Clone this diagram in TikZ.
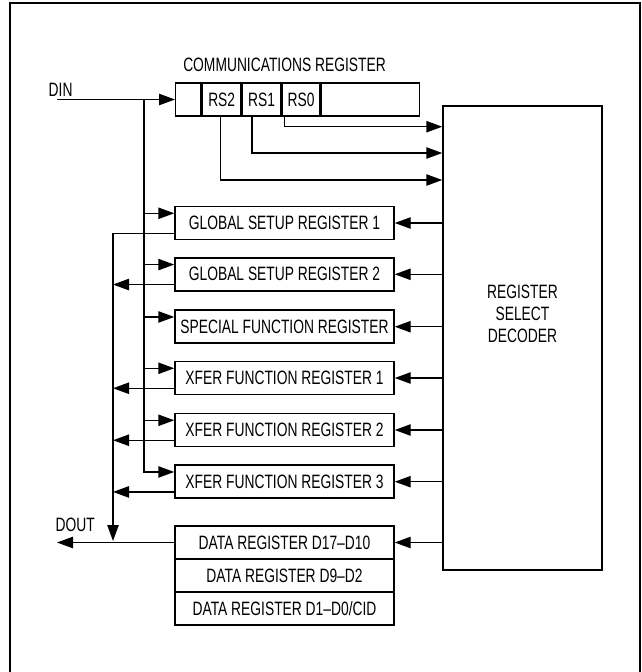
\documentclass[tikz,border=0pt]{standalone}
\usepackage{fontspec}
\setmainfont{Liberation Sans}[FakeStretch=0.715]
\usetikzlibrary{arrows.meta,calc}
\begin{document}
\begin{tikzpicture}[x=0.75pt,y=-0.75pt,line width=1.1pt,
  txt/.style={font=\fontsize{14.5}{16.5}\selectfont},
  arr/.style={-{Triangle[length=12pt,width=8.5pt]}},
  reg/.style={draw,txt,minimum width=164.25pt,minimum height=24.75pt,inner sep=0pt},
  cell/.style={draw,txt,minimum height=25pt,inner sep=0pt,anchor=west},
  lbl/.style={txt,inner sep=0pt},
  frame/.style={line width=2pt}]
\useasboundingbox (0,0) rectangle (642,672);
\draw[frame] (10,672) -- (10,3) -- (640,3) -- (640,672);

% communications register
\node[lbl] (title) at (284.5,65) {COMMUNICATIONS REGISTER};
\node[cell,minimum width=18.75pt] (c0) at (175,99.5) {};
\node[cell,minimum width=29.25pt] (rs2) at (c0.east) {RS2};
\node[cell,minimum width=28.5pt] (rs1) at (rs2.east) {RS1};
\node[cell,minimum width=28.5pt] (rs0) at (rs1.east) {RS0};
\node[cell,minimum width=73.5pt] (c4) at (rs0.east) {};

% decoder
\node[draw,minimum width=119.25pt,minimum height=348pt,inner sep=0pt] (dec) at (522.5,337.8) {};
\node[lbl,align=center] (declbl) at (522.5,313.5) {REGISTER\\SELECT\\DECODER};

% registers
\node[reg] (g1) at (284.5,223) {GLOBAL SETUP REGISTER 1};
\node[reg] (g2) at (284.5,274.3) {GLOBAL SETUP REGISTER 2};
\node[reg] (sf) at (284.5,326.7) {SPECIAL FUNCTION REGISTER};
\node[reg] (x1) at (284.5,378) {XFER FUNCTION REGISTER 1};
\node[reg] (x2) at (284.5,430) {XFER FUNCTION REGISTER 2};
\node[reg] (x3) at (284.5,481.7) {XFER FUNCTION REGISTER 3};
\node[reg] (d17) at (284.5,542.5) {DATA REGISTER D17–D10};
\node[reg] (d9) at (284.5,575.5) {DATA REGISTER D9–D2};
\node[reg] (d1) at (284.5,608.5) {DATA REGISTER D1–D0/CID};

% labels
\node[lbl,anchor=west] (dinlbl) at (48,89.5) {DIN};
\node[lbl,anchor=west] (doutlbl) at (55,525) {DOUT};

% coordinates
\coordinate (dinL) at (57,99.5);
\coordinate (dinB) at (144,99.5);
\coordinate (doutL) at (57,542.5);
\coordinate (doutB) at (113,542.5);
\coordinate (doutT) at (113,541);
\path (0,126.7) coordinate (y0) (0,153) coordinate (y1) (0,180) coordinate (y2);
\coordinate (r0) at ($(rs0.south west)+(3,0)$);
\coordinate (r1) at ($(rs1.south west)+(10,0)$);
\coordinate (r2) at ($(rs2.south west)+(19,0)$);
\foreach \n in {g1,g2,sf,x1,x2,x3}{
  \coordinate (\n i) at ($(\n.north west)+(0,7.5)$);
  \coordinate (\n o) at ($(\n.south west)+(0,-7)$);
}

% DIN
\draw[arr] (dinL) -- (c0.west);
\draw[arr] (dinB) |- (x3i);
\foreach \n in {g1,g2,sf,x1,x2}{
  \draw[arr] (dinB |- \n i) -- (\n i);
}

% RS lines
\draw[arr] (r0) |- (dec.west |- y0);
\draw[arr] (r1) |- (dec.west |- y1);
\draw[arr] (r2) |- (dec.west |- y2);

% decoder outputs
\foreach \n in {g1,g2,sf,x1,x2,x3,d17}{
  \draw[arr] (dec.west |- \n.east) -- (\n.east);
}

% DOUT
\draw[arr] (g1o) -| (doutT);
\foreach \n in {g2,x1,x2,x3}{
  \draw[arr] (\n o) -- (doutB |- \n o);
}
\draw[arr] (d17.west) -- (doutL);
\end{tikzpicture}
\end{document}
